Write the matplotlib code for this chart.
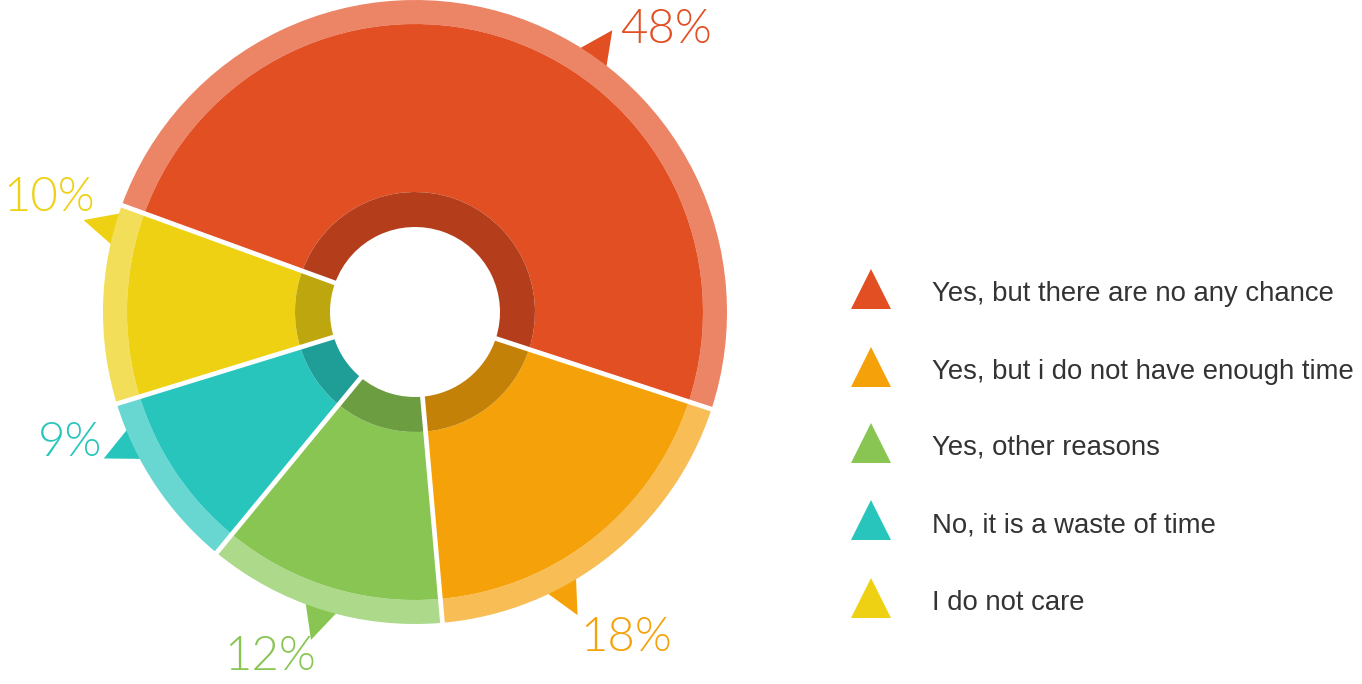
import numpy as np
import matplotlib
matplotlib.use("Agg")
import matplotlib.pyplot as plt
from matplotlib.patches import Polygon

# ---- data ----
categories = ["Yes, but there are no any chance",
              "Yes, but i do not have enough time",
              "Yes, other reasons",
              "No, it is a waste of time",
              "I do not care"]
percent = [48, 18, 12, 9, 10]
pct_labels = ["48%", "18%", "12%", "9%", "10%"]

# ---- style ----
main_colors = ["#E14F23", "#F5A20A", "#88C552", "#28C5BD", "#EDD112"]
light_colors = ["#EC8466", "#F8BD55", "#ACD98A", "#68D7D1", "#F2DE59"]
dark_colors = ["#B43E1C", "#C48108", "#6C9D41", "#1F9E97", "#BEA70E"]

W, H = 1362, 684
cx, cy = 415, H - 312          # pie centre in pixel units (y up)
R_OUT, R_MAIN, R_DARK, R_HOLE = 312, 288, 120, 85
START = 160

pointer_angles = [55, -61.8, -107.6, -154.8, 164.5]   # where the small arrows sit
label_polar = [(48.7, 380), (-56.9, 386), (-113.0, 372), (-159.6, 368), (162.3, 384)]

fig = plt.figure(figsize=(W / 100, H / 100), dpi=100)
ax = fig.add_axes([0, 0, 1, 1])

common = dict(startangle=START, counterclock=False, center=(cx, cy))
ax.pie(percent, radius=R_OUT, colors=light_colors,
       wedgeprops=dict(width=R_OUT - R_MAIN, linewidth=0), **common)
ax.pie(percent, radius=R_MAIN, colors=main_colors,
       wedgeprops=dict(width=R_MAIN - R_DARK, linewidth=0), **common)
ax.pie(percent, radius=R_DARK, colors=dark_colors,
       wedgeprops=dict(width=R_DARK - R_HOLE, linewidth=0), **common)

# white separators between slices, computed from the data
vals = np.asarray(percent, dtype=float)
bounds = START - 360 * np.concatenate([[0], np.cumsum(vals)[:-1]]) / vals.sum()
for b in bounds:
    t = np.deg2rad(b)
    ax.plot([cx + 80 * np.cos(t), cx + 322 * np.cos(t)],
            [cy + 80 * np.sin(t), cy + 322 * np.sin(t)],
            color="white", lw=3.4, solid_capstyle="butt", zorder=5)

# pointers and percentage labels
def polar(a, r):
    t = np.deg2rad(a)
    return cx + r * np.cos(t), cy + r * np.sin(t)

for i, a in enumerate(pointer_angles):
    pts = [polar(a - 3.6, 305), polar(a + 3.6, 305), polar(a, 344)]
    ax.add_patch(Polygon(pts, closed=True, facecolor=main_colors[i],
                         edgecolor="none", zorder=0.5))
    la, lr = label_polar[i]
    lx, ly = polar(la, lr)
    ax.text(lx, ly - 3, pct_labels[i], color=main_colors[i], fontsize=34,
            family=["Lato", "DejaVu Sans"], fontweight=300,
            ha="center", va="center", zorder=6)

# legend
leg_x, leg_tx = 871, 932
leg_y = [289, 367, 443, 520, 598]
for i, name in enumerate(categories):
    y = H - leg_y[i]
    ax.plot([leg_x], [y], marker="^", ms=29.5, mew=0, color=main_colors[i],
            linestyle="none", zorder=6)
    ax.text(leg_tx, y - 12, name, color="#333333", fontsize=19.8,
            family=["Liberation Sans", "DejaVu Sans"], ha="left",
            va="baseline", zorder=6)

ax.set_xlim(0, W)
ax.set_ylim(0, H)
ax.set_aspect("equal")
ax.axis("off")
fig.savefig("out.png", dpi=100, facecolor="white")
